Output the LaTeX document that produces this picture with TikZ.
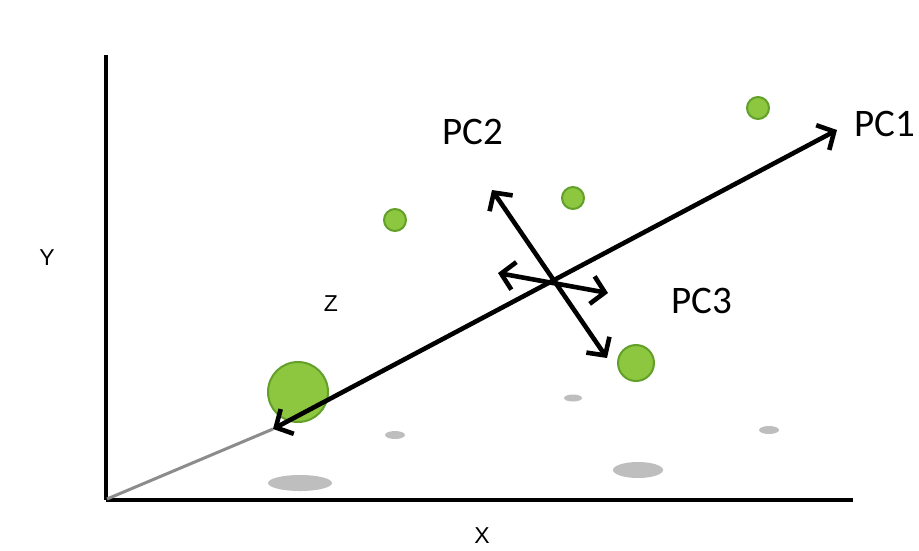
\documentclass[tikz,border=0pt]{standalone}
\usepackage{fontspec}
\setmainfont{Liberation Sans}
\newfontfamily\pcfont{Carlito}
\usetikzlibrary{arrows.meta}
\definecolor{dotfill}{HTML}{8DC63F}
\definecolor{dotedge}{HTML}{62A02A}
\definecolor{shade}{HTML}{BEBEBE}
\tikzset{
  axisline/.style={line width=#1, black},
  dot/.style={circle, fill=dotfill, draw=dotedge, line width=2pt, inner sep=0pt, minimum size=#1},
  shadow/.style={fill=shade, draw=none},
  pcarrow/.style={line width=4.6pt, black, {Straight Barb[length=13pt,width=28pt]}-{Straight Barb[length=13pt,width=28pt]}},
  pclabel/.style={font=\pcfont\fontsize{39}{42}\selectfont, inner sep=0pt},
  axlabel/.style={font=\fontsize{23}{25}\selectfont, inner sep=0pt},
}
\begin{document}
\begin{tikzpicture}[x=1pt,y=-1pt]
\useasboundingbox (0,0) rectangle (919,550);
\fill[white] (0,0) rectangle (919,550);
% shadows
\fill[shadow] (300,483) ellipse [x radius=32, y radius=8];
\fill[shadow] (395,435) ellipse [x radius=10, y radius=4];
\fill[shadow] (573,398) ellipse [x radius=9, y radius=3.5];
\fill[shadow] (638,470) ellipse [x radius=25, y radius=8];
\fill[shadow] (769,430) ellipse [x radius=10, y radius=4];
% axes
\coordinate (O) at (106,500);
\coordinate (ytop) at (106,55);
\coordinate (xend) at (853,500);
\draw[axisline=3.4pt] (O) -- (xend);
\draw[axisline=4.6pt] (O) -- (ytop);
% points
\node[dot=60pt] (big) at (298,392) {};
\node[dot=22pt] (p1) at (395,220) {};
\node[dot=22pt] (p2) at (573,198) {};
\node[dot=22pt] (p3) at (758,108) {};
\node[dot=36pt] (p4) at (636,363) {};
% gray projection line
\coordinate (pc1a) at (273,429);
\coordinate (pc1b) at (837,130);
\draw[line width=3pt, color=gray!90] (107,499) -- (pc1a);
% PCs
\coordinate (pc2a) at (492,190);
\coordinate (pc2b) at (607,358);
\coordinate (pc3a) at (498,273);
\coordinate (pc3b) at (608,293);
\draw[pcarrow] (pc1a) -- (pc1b);
\draw[pcarrow] (pc2a) -- (pc2b);
\draw[pcarrow] (pc3a) -- (pc3b);
% labels
\node[pclabel] (l1) at (885,124) {PC1};
\node[pclabel] (l2) at (473,132) {PC2};
\node[pclabel] (l3) at (702,301) {PC3};
\node[axlabel] (ly) at (47,258) {Y};
\node[axlabel] (lz) at (331,304) {Z};
\node[axlabel] (lx) at (482,536) {X};
\end{tikzpicture}
\end{document}
